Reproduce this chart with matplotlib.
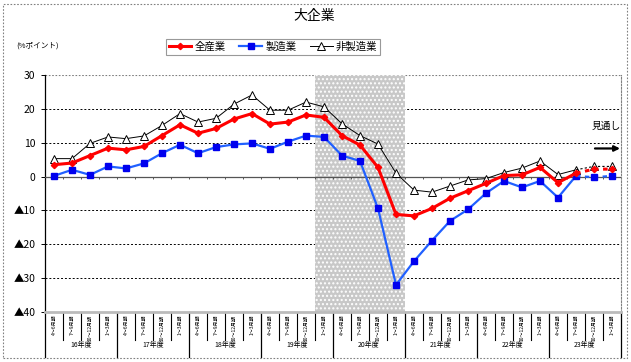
import numpy as np
import matplotlib.pyplot as plt
import matplotlib.transforms as mtransforms
from matplotlib.patches import Rectangle

plt.rcParams['font.family'] = ['Noto Sans CJK JP', 'DejaVu Sans']

years = ["16年度", "17年度", "18年度", "19年度", "20年度", "21年度", "22年度", "23年度"]
quarters = ["4～6月期", "7～9月期", "10～12月期", "1～3月期"]

# 全産業
zen = [3.5, 4.0, 6.2, 8.4, 7.9, 8.9, 12.1, 15.3, 12.8, 14.2, 17.0, 18.6, 15.5, 16.1, 18.2, 17.5,
       12.1, 9.3, 2.7, -11.2, -11.6, -9.4, -6.4, -4.2, -2.0, 0.3, 0.5, 2.7, -1.8, 1.0, 2.2, 2.2]
# 製造業
sei = [0.2, 2.0, 0.5, 3.0, 2.4, 3.9, 6.9, 9.4, 6.9, 8.7, 9.5, 9.8, 8.2, 10.3, 12.1, 11.7,
       6.2, 4.6, -9.4, -32.0, -25.0, -18.9, -13.1, -9.7, -4.9, -1.3, -3.2, -1.3, -6.2, 0.2, -0.2, 0.2]
# 非製造業
hisei = [5.3, 5.3, 9.8, 11.7, 11.2, 12.0, 15.1, 18.6, 16.1, 17.2, 21.4, 24.1, 19.6, 19.6, 22.0, 20.6,
         15.6, 12.1, 9.6, 1.0, -4.0, -4.6, -2.8, -1.0, -0.6, 1.2, 2.5, 4.6, 0.6, 2.0, 3.0, 3.0]

n_act = 30  # actual values; last two are forecasts (見通し)
shade = (15, 19)

W, H = 631, 362
fig = plt.figure(figsize=(W / 100, H / 100), dpi=100)
ax = fig.add_axes([45 / W, 50 / H, 576 / W, 237 / H])

x = np.arange(len(zen))
ax.set_xlim(-0.5, len(zen) - 0.5)
ax.set_ylim(-40, 30)

# grid
for g in [20, 10, -10, -20, -30]:
    ax.axhline(g, color='black', lw=0.7, ls=(0, (2, 2)), zorder=1)
ax.axhline(30, color='gray', lw=0.8, ls=(0, (1.5, 1.5)), zorder=1)
ax.axvspan(shade[0] - 0.5, shade[1] + 0.5, facecolor='#c8c8c8', edgecolor='white',
           hatch='....', lw=0, zorder=2)
ax.axhline(0, color='#555555', lw=0.9, zorder=3)
ax.vlines(np.arange(len(zen)) + 0.5, -0.8, 0, color='#555555', lw=0.7, zorder=3)

# series
a = n_act
ax.plot(x[:a], hisei[:a], color='black', lw=0.7, marker='^', ms=5.5, mfc='white', mec='black', mew=0.7, zorder=4, label='非製造業')
ax.plot(x[a - 1:], hisei[a - 1:], color='black', lw=0.8, ls=(0, (2, 2)), marker='^', ms=5.5, mfc='white', mec='black', mew=0.7, zorder=4, markevery=[1, 2])
ax.plot(x[:a], sei[:a], color='#2060ff', lw=1.6, marker='s', ms=4.5, mfc='#0000ee', mec='#0000ee', zorder=5, label='製造業')
ax.plot(x[a - 1:], sei[a - 1:], color='#2060ff', lw=1.6, ls=(0, (2, 2)), marker='s', ms=4.5, mfc='#0000ee', mec='#0000ee', zorder=5, markevery=[1, 2])
ax.plot(x[:a], zen[:a], color='#ff0000', lw=2.2, marker='D', ms=3.2, mfc='#ff0000', mec='#ff0000', zorder=6, label='全産業')
ax.plot(x[a - 1:], zen[a - 1:], color='#ff0000', lw=2.2, ls=(0, (1.5, 1.5)), marker='D', ms=3.2, mfc='#ff0000', mec='#ff0000', zorder=6, markevery=[1, 2])

# axes styling
for s in ['top', 'bottom']:
    ax.spines[s].set_visible(False)
ax.spines['right'].set_color('gray')
ax.spines['right'].set_linestyle((0, (1.5, 1.5)))
ax.spines['right'].set_linewidth(0.8)
ax.spines['left'].set_linewidth(0.9)
yt = [30, 20, 10, 0, -10, -20, -30, -40]
ax.set_yticks(yt)
ax.set_yticklabels([str(v) if v >= 0 else '▲' + str(-v) for v in yt], fontsize=7.5)
ax.tick_params(axis='y', length=3, width=0.7, pad=4)
ax.set_xticks([])

# bottom band: quarter labels, separators, year labels
tr = mtransforms.blended_transform_factory(ax.transData, ax.transAxes)
ax.plot([-0.5, len(zen) - 0.5], [0, 0], transform=tr, color='#bbbbbb', lw=2, clip_on=False, zorder=7)
for i in range(len(zen)):
    ax.text(i, -0.012, quarters[i % 4], transform=tr, rotation=90, ha='center', va='top',
            fontsize=3.6, clip_on=False)
    if i % 4 != 0:
        ax.plot([i - 0.5, i - 0.5], [0, -0.118], transform=tr, color='black', lw=0.8, clip_on=False)
for k, yname in enumerate(years):
    ax.plot([4 * k - 0.5, 4 * k - 0.5], [0, -0.19], transform=tr, color='black', lw=0.9, clip_on=False)
    ax.text(4 * k + 1.5, -0.14, yname, transform=tr, ha='center', va='center', fontsize=5, clip_on=False)
ax.plot([len(zen) - 0.5] * 2, [0, -0.19], transform=tr, color='black', lw=0.9, clip_on=False)

# 見通し
ax.text(30.7, 15.0, '見通し', fontsize=7, ha='center', va='center')
ax.annotate('', xy=(31.6, 8.3), xytext=(29.9, 8.3),
            arrowprops=dict(arrowstyle='-|>', color='black', lw=1.6, mutation_scale=8), annotation_clip=False)

# titles
fig.text(314 / W, 1 - 16 / H, '大企業', ha='center', va='center', fontsize=10)
fig.text(38 / W, 1 - 46 / H, '(%ポイント)', ha='center', va='center', fontsize=5.5)

handles, labels = ax.get_legend_handles_labels()
order = [2, 1, 0]
leg = fig.legend([handles[i] for i in order], [labels[i] for i in order], loc='center',
                 bbox_to_anchor=(273 / W, 1 - 47 / H), ncol=3, fontsize=7.5, frameon=True,
                 fancybox=False, edgecolor='gray', borderpad=0.25, handlelength=2.2,
                 handletextpad=0.3, columnspacing=1.3)
leg.get_frame().set_linewidth(0.8)

# outer frame
fig.patches.append(Rectangle((3 / W, 4 / H), 624 / W, 354 / H, transform=fig.transFigure,
                             fill=False, edgecolor='gray', lw=0.8, ls=(0, (1.5, 1.5))))

fig.savefig('out.png', dpi=100)
